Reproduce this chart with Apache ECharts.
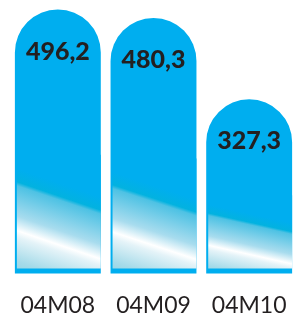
<!DOCTYPE html>
<html>
<head>
<meta charset="utf-8">
<style>
  html, body { margin: 0; padding: 0; background: #fff; }
  #chart { width: 297px; height: 317px; }
</style>
<script src="https://cdn.jsdelivr.net/npm/echarts@6/dist/echarts.min.js"></script>
</head>
<body>
<div id="chart"></div>
<script>
const categories = ['04M08', '04M09', '04M10'];
const values = [496.2, 480.3, 327.3];

const BLUE = '#00aeef';
const chart = echarts.init(document.getElementById('chart'));

function fmt(v) {
  return v.toFixed(1).replace('.', ',');
}

// shine colours, keyed by height fraction (from the base) on the bar's left edge
const shine = [
  [0.40, '#00aeef'],
  [0.35, '#02b2e0'],
  [0.335, '#4ec2e4'],
  [0.22, '#a8dcee'],
  [0.165, '#ffffff'],
  [0.14, '#e4f3f8'],
  [0.05, '#a6dbe9'],
  [-0.11, '#62c4da']
];

function renderItem(params, api) {
  const top = api.coord([api.value(0), api.value(1)]);
  const base = api.coord([api.value(0), 0]);
  const w = api.size([1, 0])[0] * 0.898;
  const x = top[0] - w / 2;
  const h = base[1] - top[1];
  const r = w / 2;
  // the shine drops by k bar heights across the bar width
  const k = 0.11, f0 = 0.40, f1 = -0.11;
  const sx = x, sy = base[1] - f0 * h;
  const L2 = (k * h) * (k * h) + w * w;
  const s = (f0 - f1) * h * w / L2;
  const stops = shine.map(([f, c]) => ({ offset: (f0 - f) / (f0 - f1), color: c }));
  return {
    type: 'group',
    children: [
      {
        type: 'rect',
        shape: { x: x, y: top[1], width: w, height: h, r: [r, r, 0, 0] },
        style: { fill: BLUE }
      },
      {
        type: 'rect',
        shape: { x: x + 2, y: base[1] - 0.45 * h, width: w - 2, height: 0.45 * h - 5 },
        style: {
          fill: {
            type: 'linear', global: true,
            x: sx, y: sy, x2: sx - k * h * s, y2: sy + w * s,
            colorStops: stops
          }
        }
      },
      {
        type: 'text',
        style: {
          text: fmt(api.value(1)),
          x: top[0], y: top[1] + 42,
          align: 'center', verticalAlign: 'middle',
          font: '900 25px Lato',
          fill: '#231f20'
        }
      }
    ]
  };
}

chart.setOption({
  animation: false,
  grid: { left: 10, width: 294, top: 0, bottom: 29 },
  xAxis: {
    type: 'category',
    data: categories,
    axisLine: { show: false },
    axisTick: { show: false },
    axisLabel: {
      interval: 0,
      hideOverlap: false,
      fontFamily: 'Lato',
      fontSize: 23,
      lineHeight: 23,
      color: '#231f20',
      verticalAlign: 'middle',
      margin: 32
    }
  },
  yAxis: { type: 'value', min: 0, max: 514, show: false },
  series: [{
    type: 'custom',
    renderItem: renderItem,
    data: values.map((v, i) => [i, v])
  }]
});

window.onresize = () => {
  chart.resize();
};
</script>
</body>
</html>
